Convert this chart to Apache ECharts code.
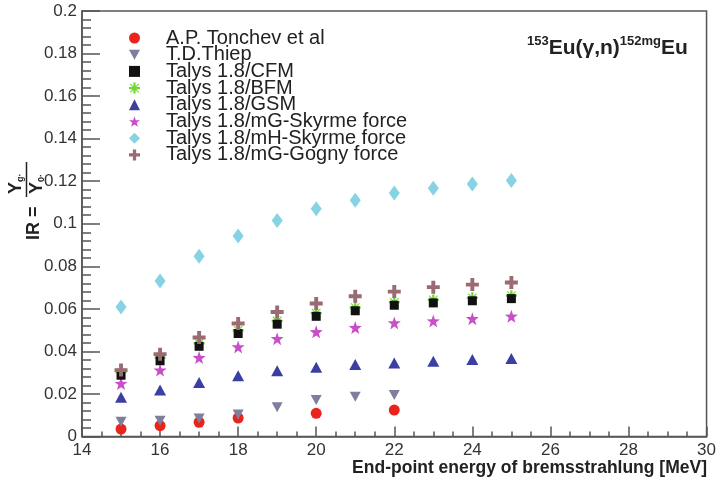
<!DOCTYPE html>
<html>
<head>
<meta charset="utf-8">
<script src="https://cdn.jsdelivr.net/npm/echarts@6/dist/echarts.min.js"></script>
<style>html,body{margin:0;padding:0;background:#fff}#c{width:719px;height:481px}</style>
</head>
<body>
<div id="c"></div>
<script>
const energies = [15, 16, 17, 18, 19, 20, 21, 22, 23, 24, 25];
const tonchevE = [15, 16, 17, 18, 20, 22];
const tonchev = [0.0035, 0.0051, 0.0067, 0.0087, 0.0109, 0.0124];
const thiepE = [15, 16, 17, 18, 19, 20, 21, 22];
const thiep = [0.0069, 0.0074, 0.0085, 0.0103, 0.0137, 0.0171, 0.0187, 0.0195];
const cfm = [0.0288, 0.0356, 0.0424, 0.0484, 0.0528, 0.0565, 0.0591, 0.0617, 0.0628, 0.0638, 0.0648];
const bfm = [0.0302, 0.0370, 0.0438, 0.0499, 0.0543, 0.0580, 0.0606, 0.0631, 0.0642, 0.0652, 0.0662];
const gsm = [0.0184, 0.0218, 0.0254, 0.0285, 0.0309, 0.0325, 0.0339, 0.0346, 0.0354, 0.0362, 0.0367];
const mgSkyrme = [0.0249, 0.0312, 0.0371, 0.0421, 0.0460, 0.0492, 0.0512, 0.0534, 0.0543, 0.0554, 0.0565];
const mhSkyrme = [0.0609, 0.0731, 0.0847, 0.0942, 0.1015, 0.1070, 0.1110, 0.1144, 0.1167, 0.1187, 0.1203];
const mgGogny = [0.0312, 0.0387, 0.0465, 0.0531, 0.0585, 0.0625, 0.0659, 0.0681, 0.0702, 0.0714, 0.0724];
const seriesNames = ['A.P. Tonchev et al', 'T.D.Thiep', 'Talys 1.8/CFM', 'Talys 1.8/BFM', 'Talys 1.8/GSM',
  'Talys 1.8/mG-Skyrme force', 'Talys 1.8/mH-Skyrme force', 'Talys 1.8/mG-Gogny force'];
const xTicks = { min: 14, max: 30, interval: 2 };
const yTicks = { min: 0, max: 0.2, interval: 0.02 };

const pair = (xs, ys) => xs.map((x, i) => [x, ys[i]]);
const STAR = 'path://M5,0L6.2,3.5L10,3.6L7,5.9L8.1,9.5L5,7.4L1.9,9.5L3,5.9L0,3.6L3.8,3.5Z';
const PLUS = 'path://M3.5,0H6.5V3.5H10V6.5H6.5V10H3.5V6.5H0V3.5H3.5Z';
const DOWN = 'path://M0,0L10,0L5,9Z';
const ASTER = 'path://M4,0H6V10H4Z M0,4H10V6H0Z M1.5,0.8L9.2,8.5L8.5,9.2L0.8,1.5Z M8.5,0.8L9.2,1.5L1.5,9.2L0.8,8.5Z';

const styles = [
  { symbol: 'circle', size: 11, color: '#e8241c', z: 2 },
  { symbol: DOWN, size: [11, 10], color: '#7e7e9e', z: 2 },
  { symbol: 'rect', size: 9, color: '#111111', z: 4 },
  { symbol: ASTER, size: 11, color: '#72d630', z: 3 },
  { symbol: 'triangle', size: [12, 11], color: '#3b3fa3', z: 2 },
  { symbol: STAR, size: 13, color: '#c84fc8', z: 2 },
  { symbol: 'diamond', size: [11, 15], color: '#86d3e3', z: 2 },
  { symbol: PLUS, size: 13, color: '#9a6b73', z: 5 }
];
const dataSets = [
  pair(tonchevE, tonchev), pair(thiepE, thiep), pair(energies, cfm), pair(energies, bfm),
  pair(energies, gsm), pair(energies, mgSkyrme), pair(energies, mhSkyrme), pair(energies, mgGogny)
];

const chart = echarts.init(document.getElementById('c'));
const font = 'Liberation Sans, Arial, sans-serif';
const subRich = {
  y: { fontSize: 18, fontWeight: 'bold', fontFamily: font, fill: '#222' },
  b: { fontSize: 9, fontWeight: 'bold', fontFamily: font, verticalAlign: 'bottom', fill: '#222' }
};
chart.setOption({
  animation: false,
  backgroundColor: '#fff',
  textStyle: { fontFamily: font },
  grid: { left: 82, right: 11, top: 11, bottom: 44.5, show: true, borderColor: '#555', borderWidth: 1.5, backgroundColor: 'transparent' },
  legend: {
    orient: 'vertical', left: 124, top: 23, itemWidth: 11, itemHeight: 11, itemGap: -3.3,
    data: seriesNames,
    formatter: n => '{g| }{t|' + n + '}',
    textStyle: { fontSize: 16, lineHeight: 16, color: '#222', fontFamily: font,
      rich: {
        g: { width: 21, fontSize: 16, lineHeight: 16 },
        t: { fontSize: 20, lineHeight: 16, color: '#222', fontFamily: font }
      } }
  },
  xAxis: {
    type: 'value', min: xTicks.min, max: xTicks.max, interval: xTicks.interval,
    axisLine: { show: true, lineStyle: { color: '#555', width: 1.5 } },
    axisTick: { show: true, inside: true, length: 10, lineStyle: { color: '#555', width: 1.5 } },
    minorTick: { show: true, splitNumber: 4, length: 5, lineStyle: { color: '#555', width: 1.5 } },
    axisLabel: { fontSize: 17, color: '#333', margin: 5, fontFamily: font },
    splitLine: { show: false }
  },
  yAxis: {
    type: 'value', min: yTicks.min, max: yTicks.max, interval: yTicks.interval,
    axisLine: { show: true, lineStyle: { color: '#555', width: 1.5 } },
    axisTick: { show: true, inside: true, length: 18, lineStyle: { color: '#555', width: 1.5 } },
    minorTick: { show: true, splitNumber: 5, length: 9, lineStyle: { color: '#555', width: 1.5 } },
    axisLabel: { fontSize: 17, color: '#333', margin: 5, fontFamily: font },
    splitLine: { show: false }
  },
  graphic: [
    {
      type: 'text', right: 12, top: 459,
      style: { text: 'End-point energy of bremsstrahlung [MeV]', font: 'bold 17.5px ' + font, fill: '#222' }
    },
    {
      type: 'text', left: 527, top: 35,
      style: {
        text: '{s|153}{m|Eu(γ,n)}{s|152mg}{m|Eu}',
        fill: '#222',
        rich: {
          s: { fontSize: 13, fontWeight: 'bold', fontFamily: font, verticalAlign: 'top', lineHeight: 24, fill: '#222' },
          m: { fontSize: 21, fontWeight: 'bold', fontFamily: font, lineHeight: 24, verticalAlign: 'bottom', fill: '#222' }
        }
      }
    },
    {
      type: 'group', x: 26, y: 202, rotation: Math.PI / 2,
      children: [
        { type: 'text', x: -38, y: 8, style: { text: 'IR =', font: 'bold 18px ' + font, fill: '#222', verticalAlign: 'middle', align: 'left' } },
        { type: 'text', x: 8, y: -1, style: { text: '{y|Y}{b|g·}', verticalAlign: 'bottom', align: 'left', rich: subRich } },
        { type: 'line', shape: { x1: 5, y1: 0.5, x2: 40, y2: 0.5 }, style: { stroke: '#222', lineWidth: 1.5 } },
        { type: 'text', x: 8, y: 2, style: { text: '{y|Y}{b|0·}', verticalAlign: 'top', align: 'left', rich: subRich } }
      ]
    }
  ],
  series: seriesNames.map((name, i) => ({
    name, type: 'scatter', data: dataSets[i], symbol: styles[i].symbol, symbolSize: styles[i].size,
    z: styles[i].z, itemStyle: { color: styles[i].color, opacity: 1 }
  }))
});
</script>
</body>
</html>
